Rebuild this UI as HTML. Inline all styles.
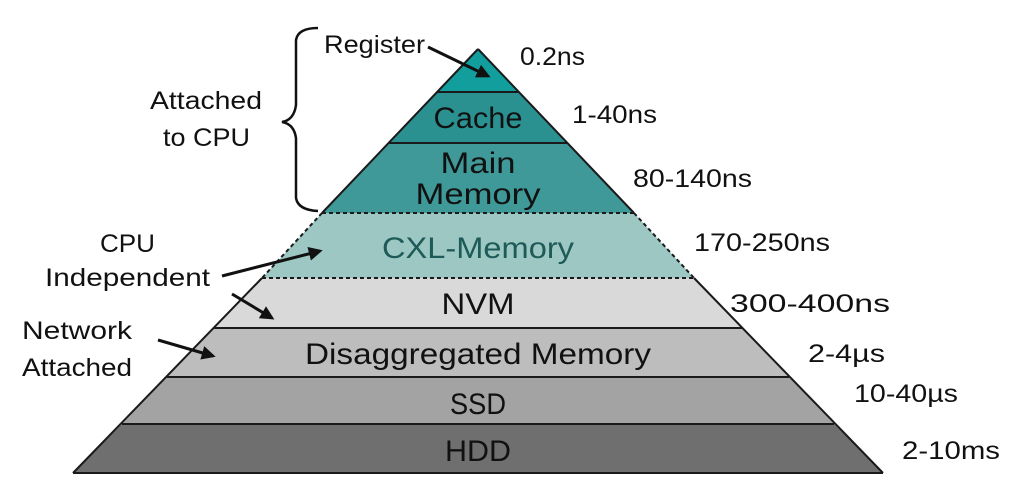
<!DOCTYPE html>
<html><head><meta charset="utf-8"><style>
html,body{margin:0;padding:0;background:#fff;}
svg text{font-family:"Liberation Sans",sans-serif;fill:#111;}
</style></head><body>
<svg width="1024" height="499" viewBox="0 0 1024 499" xmlns="http://www.w3.org/2000/svg">
<defs>
<marker id="a2" viewBox="0 0 10 10" refX="8" refY="5" markerWidth="14" markerHeight="14" orient="auto" markerUnits="userSpaceOnUse"><path d="M0,0 L10,5 L0,10 z" fill="#111"/></marker></defs>
<polygon points="478,49 519,92 437,92" fill="#139e9e"/>
<polygon points="437,92 519,92 567,143 389,143" fill="#2b9090"/>
<polygon points="389,143 567,143 634,213 322,213" fill="#3f9999"/>
<polygon points="322,213 634,213 694,278 262,278" fill="#9dc7c3"/>
<polygon points="262,278 694,278 742,328 214,328" fill="#d9d9d9"/>
<polygon points="214,328 742,328 789,377 167,377" fill="#bdbdbd"/>
<polygon points="167,377 789,377 834,424 122,424" fill="#a3a3a3"/>
<polygon points="122,424 834,424 883,473 73,473" fill="#6f6f6f"/>
<g stroke="#1a1a1a" stroke-width="2" fill="none">
<path d="M73,473 L883,473"/>
<path d="M478,49 L322,213 M478,49 L634,213"/>
<path d="M437,92 L519,92 M389,143 L567,143"/>
<path d="M262,278 L73,473 M694,278 L883,473"/>
<path d="M214,328 L742,328 M167,377 L789,377 M122,424 L834,424"/>
<path d="M322,213 L634,213 M322,213 L262,278 M634,213 L694,278 M262,278 L694,278" stroke-dasharray="4,3"/>
</g>
<g font-size="30" text-anchor="middle" lengthAdjust="spacingAndGlyphs">
<text x="478" y="128" textLength="89" lengthAdjust="spacingAndGlyphs">Cache</text>
<text x="478" y="173" textLength="75" lengthAdjust="spacingAndGlyphs">Main</text>
<text x="478" y="204" textLength="125" lengthAdjust="spacingAndGlyphs">Memory</text>
<text x="478" y="258" textLength="192" lengthAdjust="spacingAndGlyphs" style="fill:#1d5a58">CXL-Memory</text>
<text x="478" y="314" textLength="73" lengthAdjust="spacingAndGlyphs">NVM</text>
<text x="478" y="364" textLength="346" lengthAdjust="spacingAndGlyphs">Disaggregated Memory</text>
<text x="478" y="414" textLength="56" lengthAdjust="spacingAndGlyphs">SSD</text>
<text x="478" y="461" textLength="66" lengthAdjust="spacingAndGlyphs">HDD</text>
</g>
<g font-size="25">
<text x="520" y="65" textLength="65" lengthAdjust="spacingAndGlyphs">0.2ns</text>
<text x="572" y="123" textLength="85" lengthAdjust="spacingAndGlyphs">1-40ns</text>
<text x="633" y="187" textLength="119" lengthAdjust="spacingAndGlyphs">80-140ns</text>
<text x="694" y="251" textLength="136" lengthAdjust="spacingAndGlyphs">170-250ns</text>
<text x="730" y="312" textLength="160" lengthAdjust="spacingAndGlyphs">300-400ns</text>
<text x="808" y="362" textLength="77" lengthAdjust="spacingAndGlyphs">2-4µs</text>
<text x="854" y="402" textLength="104" lengthAdjust="spacingAndGlyphs">10-40µs</text>
<text x="902" y="459" textLength="98" lengthAdjust="spacingAndGlyphs">2-10ms</text>
</g>
<g font-size="25">
<text x="324" y="53" textLength="101" lengthAdjust="spacingAndGlyphs">Register</text>
<text x="150" y="109" textLength="112" lengthAdjust="spacingAndGlyphs">Attached</text>
<text x="163" y="146" textLength="87" lengthAdjust="spacingAndGlyphs">to CPU</text>
<text x="100" y="252" textLength="55" lengthAdjust="spacingAndGlyphs">CPU</text>
<text x="45" y="286" textLength="165" lengthAdjust="spacingAndGlyphs">Independent</text>
<text x="22" y="339" textLength="110" lengthAdjust="spacingAndGlyphs">Network</text>
<text x="22" y="376" textLength="110" lengthAdjust="spacingAndGlyphs">Attached</text>
</g>
<g stroke="#111" stroke-width="3" fill="none">
<path d="M428,47 L488,76" marker-end="url(#a2)"/>
<path d="M222,276 L320,251" marker-end="url(#a2)"/>
<path d="M232,294 L272,318" marker-end="url(#a2)"/>
<path d="M158,340 L213,356" marker-end="url(#a2)"/>
<path d="M318,28 Q298,28 296,40 L296,105 Q294,120 282,122 Q294,124 296,138 L296,198 Q298,210 318,211" stroke-width="2.5"/>
</g>
</svg>
</body></html>
